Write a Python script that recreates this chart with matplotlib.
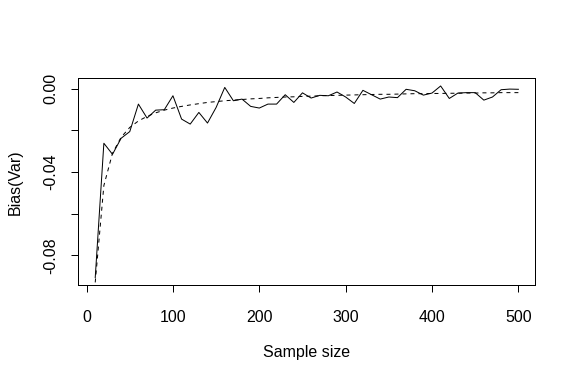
import numpy as np
import matplotlib
matplotlib.use("Agg")
import matplotlib.pyplot as plt

# sample sizes 10..500 step 10
n = list(range(10, 501, 10))

# simulated bias of the variance estimate (solid line)
bias_sim = [-0.0907, -0.0262, -0.0315, -0.0238, -0.0206, -0.0074, -0.0141, -0.0103, -0.0101, -0.0034,
            -0.0146, -0.0170, -0.0114, -0.0165, -0.0090, 0.0006, -0.0058, -0.0050, -0.0085, -0.0093,
            -0.0074, -0.0074, -0.0029, -0.0066, -0.0020, -0.0045, -0.0032, -0.0034, -0.0016, -0.0040,
            -0.0071, -0.0008, -0.0029, -0.0050, -0.0040, -0.0043, -0.0003, -0.0010, -0.0031, -0.0021,
            0.0013, -0.0047, -0.0021, -0.0019, -0.0019, -0.0055, -0.0040, -0.0005, -0.0002, -0.0003]

# theoretical bias (dashed line)
bias_theory = [-0.0930, -0.0465, -0.0310, -0.0233, -0.0186, -0.0155, -0.0133, -0.0116, -0.0103, -0.0093,
               -0.0085, -0.0078, -0.0072, -0.0066, -0.0062, -0.0058, -0.0055, -0.0052, -0.0049, -0.0047,
               -0.0044, -0.0042, -0.0040, -0.0039, -0.0037, -0.0036, -0.0034, -0.0033, -0.0032, -0.0031,
               -0.0030, -0.0029, -0.0028, -0.0027, -0.0027, -0.0026, -0.0025, -0.0024, -0.0024, -0.0023,
               -0.0023, -0.0022, -0.0022, -0.0021, -0.0021, -0.0020, -0.0020, -0.0019, -0.0019, -0.0019]

xticks = [0, 100, 200, 300, 400, 500]
yticks = [0.00, -0.02, -0.04, -0.06, -0.08]
ylabels = ["0.00", "", "-0.04", "", "-0.08"]

plt.rcParams.update({"font.family": ["Liberation Sans", "DejaVu Sans"], "font.size": 16})
fig = plt.figure(figsize=(8, 384 / 72), dpi=72)
ax = fig.add_axes([78.3 / 576, 1 - 285.3 / 384, (535.3 - 78.3) / 576, (285.3 - 78.3) / 384])

ax.plot(n, bias_sim, color="black", lw=1)
ax.plot(n, bias_theory, color="black", lw=1, dashes=(4, 4))

# R-style 4% padding of the data range
xr = max(n) - min(n)
ax.set_xlim(min(n) - 0.04 * xr, max(n) + 0.04 * xr)
yr = max(bias_sim) - min(bias_sim)
ax.set_ylim(min(bias_sim) - 0.04 * yr, max(bias_sim) + 0.04 * yr)

ax.set_xticks(xticks)
ax.set_yticks(yticks)
ax.set_yticklabels(ylabels, rotation=90, va="center")
ax.tick_params(axis="both", direction="out", length=7, width=1, labelsize=16)
ax.tick_params(axis="x", pad=18)
ax.tick_params(axis="y", pad=13)
for s in ax.spines.values():
    s.set_linewidth(1)

ax.set_xlabel("Sample size", labelpad=20)
ax.set_ylabel("Bias(Var)", labelpad=21)

fig.savefig("out.png", dpi=72)
